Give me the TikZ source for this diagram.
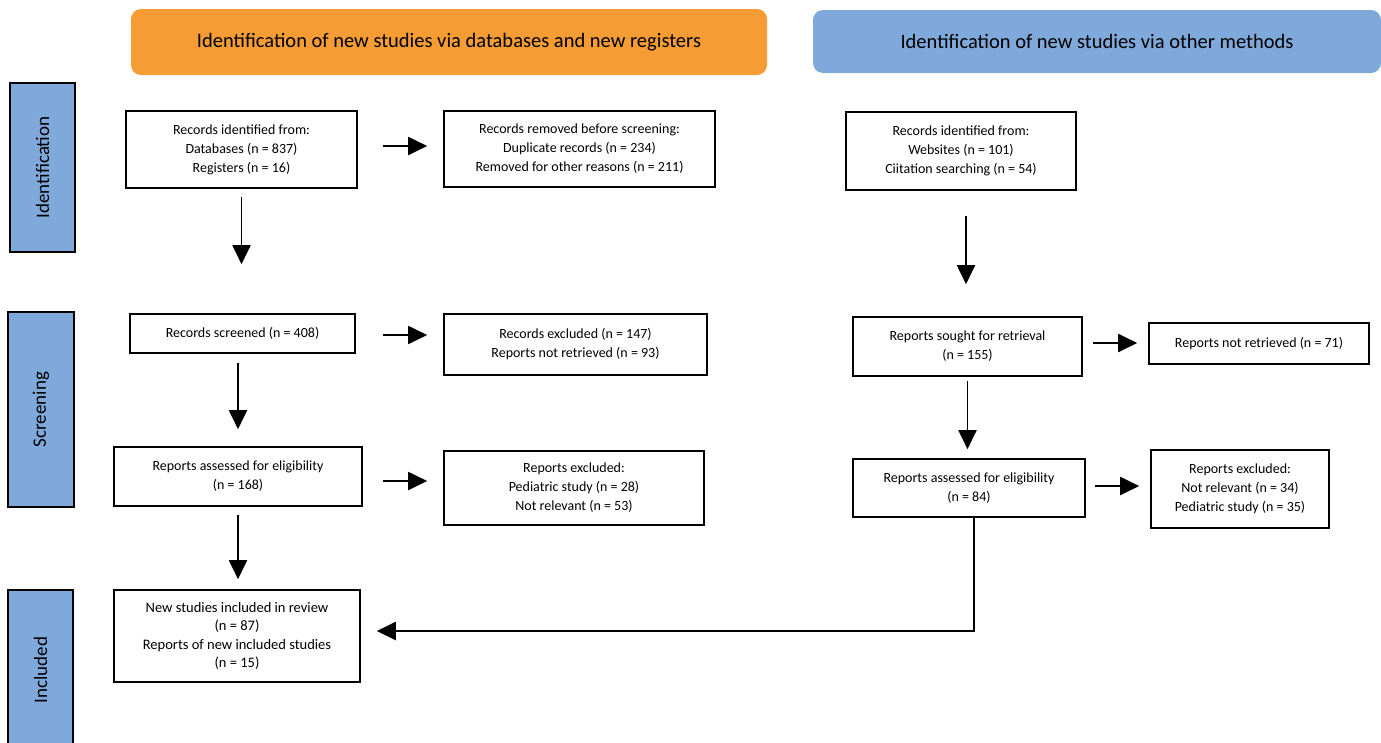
\documentclass[tikz,border=0pt]{standalone}
\usepackage{fontspec}
\setmainfont{Carlito}
\usetikzlibrary{arrows.meta}
\definecolor{hdrorange}{HTML}{F59D34}
\definecolor{hdrblue}{HTML}{7FA9DB}
\tikzset{
  box/.style={draw=black, line width=1.6pt, fill=white, align=center, inner sep=2pt,
    font=\fontsize{14}{19}\selectfont},
  header/.style={rounded corners=10pt, inner sep=0pt, font=\fontsize{20.5}{24}\selectfont},
  sidebar/.style={draw=black, line width=1.6pt, fill=hdrblue, rotate=90, inner sep=0pt,
    font=\fontsize{19}{22}\selectfont},
  arr/.style={line width=1.9pt, -{Triangle[length=19pt,width=18pt]}},
}
\begin{document}
\begin{tikzpicture}[x=1pt,y=-1pt]
\useasboundingbox (0,0) rectangle (1381,742);
\clip (0,0) rectangle (1381,742);
\fill[white] (0,0) rectangle (1381,742);
% headers
\node[header, fill=hdrorange, minimum width=636pt, minimum height=66pt] (h1) at (449,42) {Identification of new studies via databases and new registers};
\node[header, fill=hdrblue, minimum width=568pt, minimum height=63pt] (h2) at (1097,41.5) {Identification of new studies via other methods};
% side bars
\node[sidebar, minimum width=169pt, minimum height=65pt] (s1) at (42.5,167.5) {Identification};
\node[sidebar, minimum width=195pt, minimum height=66pt] (s2) at (41,409.5) {Screening};
\node[sidebar, minimum width=160pt, minimum height=65pt] (s3) at (40.5,670) {Included};
% left column
\node[box, minimum width=231pt, minimum height=77pt] (A) at (241.5,149.5) {Records identified from:\\Databases (n = 837)\\Registers (n = 16)};
\node[box, minimum width=271pt, minimum height=76pt] (B) at (579.5,149) {Records removed before screening:\\Duplicate records (n = 234)\\Removed for other reasons (n = 211)};
\node[box, minimum width=225pt, minimum height=39pt] (C) at (242.5,333.5) {Records screened (n = 408)};
\node[box, minimum width=263pt, minimum height=61pt] (D) at (575.5,344.5) {Records excluded (n = 147)\\Reports not retrieved (n = 93)};
\node[box, minimum width=248pt, minimum height=59pt] (E) at (238,476.5) {Reports assessed for eligibility\\(n = 168)};
\node[box, minimum width=260pt, minimum height=74pt] (F) at (574,488) {Reports excluded:\\Pediatric study (n = 28)\\Not relevant (n = 53)};
\node[box, minimum width=246pt, minimum height=92pt, font=\fontsize{14.5}{18.5}\selectfont] (G) at (237,636) {New studies included in review\\(n = 87)\\Reports of new included studies\\(n = 15)};
% right column
\node[box, minimum width=230pt, minimum height=78pt] (H) at (961,151) {Records identified from:\\Websites (n = 101)\\Ciitation searching (n = 54)};
\node[box, minimum width=229pt, minimum height=59pt] (I) at (967.5,346.5) {Reports sought for retrieval\\(n = 155)};
\node[box, minimum width=220pt, minimum height=41pt] (J) at (1259,343.5) {Reports not retrieved (n = 71)};
\node[box, minimum width=232pt, minimum height=58pt] (K) at (969,488) {Reports assessed for eligibility\\(n = 84)};
\node[box, minimum width=178pt, minimum height=78pt] (L) at (1240,489) {Reports excluded:\\Not relevant (n = 34)\\Pediatric study (n = 35)};
% arrows
\draw[arr, shorten <=25pt, shorten >=16pt] ([yshift=3.5pt]A.east) -- ([yshift=3.5pt]A.east -| B.west);
\draw[arr, shorten <=8pt, shorten >=49pt] (A.south) -- (A.south |- C.north);
\draw[arr, shorten <=27pt, shorten >=16pt] ([yshift=-1.5pt]C.east) -- ([yshift=-1.5pt]C.east -| D.west);
\draw[arr, shorten <=9pt, shorten >=17pt] (C.south -| E.north) -- (E.north);
\draw[arr, shorten <=20pt, shorten >=16pt] ([yshift=-4.5pt]E.east) -- ([yshift=-4.5pt]E.east -| F.west);
\draw[arr, shorten <=8pt, shorten >=10pt] (E.south) -- (E.south |- G.north);
\draw[arr, shorten <=25pt, shorten >=32pt] ([xshift=5pt]H.south) -- ([xshift=5pt]H.south |- I.north);
\draw[arr, shorten <=10pt, shorten >=11pt] ([yshift=3.5pt]I.east) -- ([yshift=3.5pt]I.east -| J.west);
\draw[arr, shorten <=4pt, shorten >=9pt] (I.south) -- (I.south |- K.north);
\draw[arr, shorten <=9pt, shorten >=11pt] ([yshift=2pt]K.east) -- ([yshift=2pt]K.east -| L.west);
\coordinate (bend) at (974,631);
\draw[arr, line width=2.4pt, shorten >=16pt] (K.south -| bend) -- (bend) -- (bend -| G.east);
\end{tikzpicture}
\end{document}
